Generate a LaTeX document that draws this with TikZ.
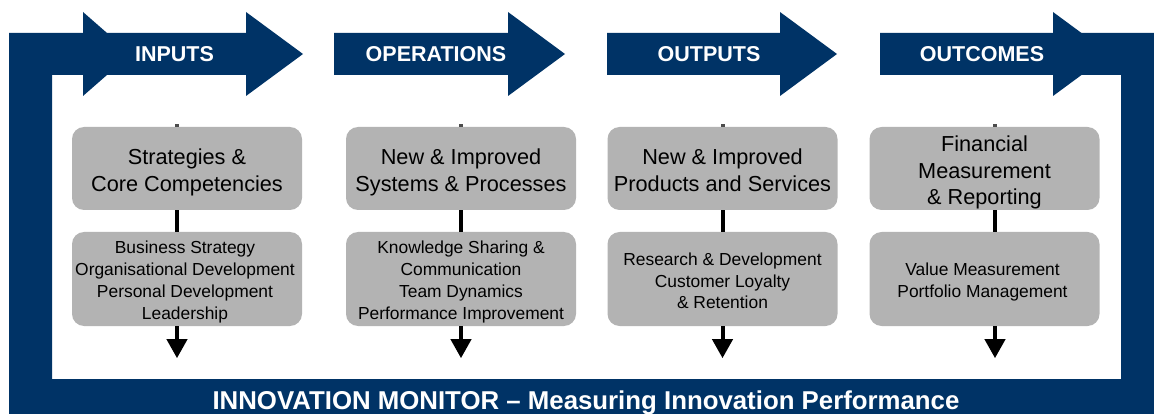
\documentclass[tikz,border=0pt]{standalone}
\usepackage{fontspec}
\setmainfont{Liberation Sans}
\usetikzlibrary{calc,arrows.meta}
\definecolor{navy}{HTML}{003366}
\definecolor{boxgray}{HTML}{B3B3B3}
\begin{document}
\begin{tikzpicture}[x=1pt,y=-1pt,
  band/.style={fill=navy},
  headtext/.style={text=white,font=\fontsize{21.5}{26}\selectfont\bfseries,inner sep=0pt},
  titletext/.style={text=white,font=\fontsize{25.8}{30}\selectfont\bfseries,inner sep=0pt},
  upperbox/.style={fill=boxgray,rounded corners=12pt,minimum width=230pt,minimum height=83pt,inner sep=0pt},
  lowerbox/.style={fill=boxgray,rounded corners=12pt,minimum width=230pt,minimum height=94pt,inner sep=0pt},
  uppertext/.style={inner sep=0pt,align=center,font=\fontsize{21.7}{26.5}\selectfont},
  lowertext/.style={inner sep=0pt,align=center,font=\fontsize{17.4}{21.7}\selectfont},
  link/.style={line width=4pt,black},
  exit/.style={line width=4pt,black,-{Triangle[width=20pt,length=19pt]}},
  stub/.style={line width=4pt,black!70}]
\useasboundingbox (0,0) rectangle (1154,414);

% surrounding frame: left, bottom and right bands, with the start arrowhead
\fill[band] (9,414) -- (9,33) -- (83,33) -- (83,12) -- (131,54) -- (83,96) -- (83,75)
  -- (52,75) -- (52,379) -- (1121,379) -- (1121,75) -- (1053,75) -- (1053,33)
  -- (1154,33) -- (1154,414) -- cycle;

% stage arrows: shaft start, head base
\foreach \xs/\xb in {83/246, 334/508, 607/780, 880/1053}{
  \fill[band] (\xs,33) -- (\xb,33) -- (\xb,12) -- ({\xb+57},54) -- (\xb,96)
    -- (\xb,75) -- (\xs,75) -- cycle;
}

\node[headtext] (h1) at (174.5,54) {INPUTS};
\node[headtext] (h2) at (436,54) {OPERATIONS};
\node[headtext] (h3) at (709,54) {OUTPUTS};
\node[headtext] (h4) at (982,54) {OUTCOMES};

% upper boxes
\node[upperbox] (b1) at (187,168.5) {};
\node[upperbox] (b2) at (461,168.5) {};
\node[upperbox] (b3) at (722.5,168.5) {};
\node[upperbox] (b4) at (984.5,168.5) {};
\node[uppertext] (u1) at ($(b1)+(0,4)$) {Strategies \&\\Core Competencies};
\node[uppertext] (u2) at ($(b2)+(0,4)$) {New \& Improved\\Systems \& Processes};
\node[uppertext] (u3) at ($(b3)+(0,1.5)$) {New \& Improved\\Products and Services};
\node[uppertext] (u4) at ($(b4)+(0,4)$) {Financial\\Measurement\\\& Reporting};

% lower boxes
\node[lowerbox] (d1) at (187,279) {};
\node[lowerbox] (d2) at (461,279) {};
\node[lowerbox] (d3) at (722.5,279) {};
\node[lowerbox] (d4) at (984.5,279) {};
\node[lowertext] (l1) at ($(d1)+(-2,3)$) {Business Strategy\\Organisational Development\\Personal Development\\Leadership};
\node[lowertext] (l2) at ($(d2)+(0,3)$) {Knowledge Sharing \&\\Communication\\Team Dynamics\\Performance Improvement};
\node[lowertext] (l3) at ($(d3)+(0,2)$) {Research \& Development\\Customer Loyalty\\\& Retention};
\node[lowertext] (l4) at ($(d4)+(-2,3)$) {Value Measurement\\Portfolio Management};

% connectors: stub above, link between boxes, arrow out below
\foreach \k/\dx in {1/-10, 2/0, 3/0, 4/10.5}{
  \draw[stub] ($(b\k.north)+(\dx,0)$) -- ($(b\k.north)+(\dx,-2.5)$);
  \draw[link] ($(b\k.south)+(\dx,0)$) -- ($(d\k.north)+(\dx,0)$);
  \coordinate (e\k) at ($(d\k.south)+(\dx,32)$);
  \draw[exit] ($(d\k.south)+(\dx,0)$) -- (e\k);
}

\node[titletext,anchor=base] (title) at (586,409.5) {INNOVATION MONITOR – Measuring Innovation Performance};
\end{tikzpicture}
\end{document}
